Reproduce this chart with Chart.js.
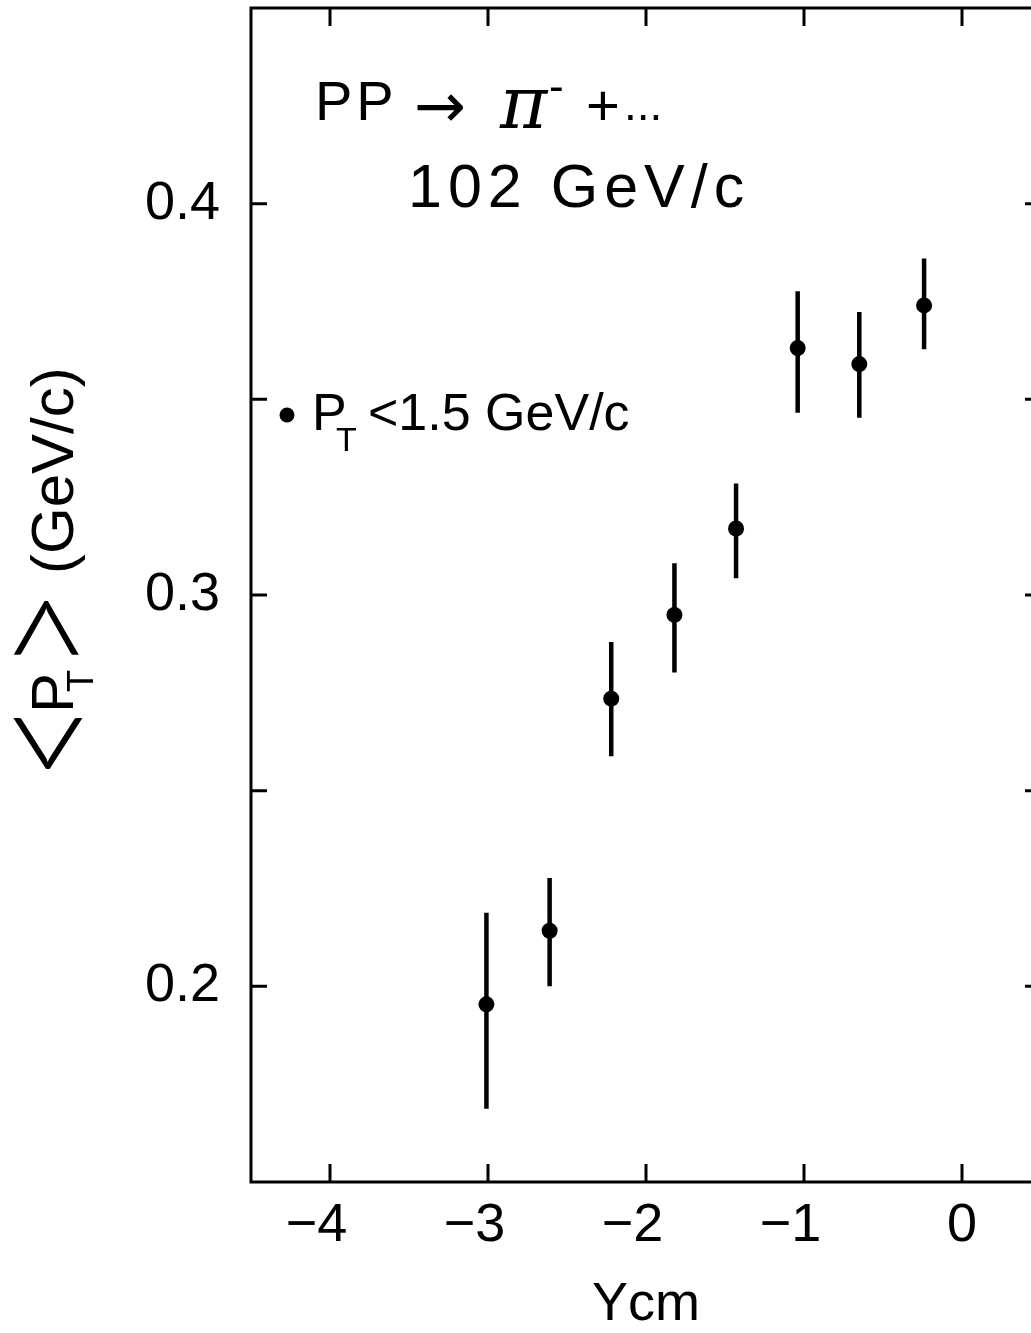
<!DOCTYPE html>
<html>
<head>
<meta charset="utf-8">
<script src="https://cdn.jsdelivr.net/npm/chart.js@4.4.1/dist/chart.umd.min.js"></script>
<style>
  html, body { margin: 0; padding: 0; background: #fff; overflow: hidden; }
  canvas { display: block; }
</style>
</head>
<body>
<canvas id="myChart" width="1060" height="1333"></canvas>
<script>
// rapidity bins (Ycm) and mean pT with error bar ends
const ycm = [-3.01, -2.61, -2.22, -1.82, -1.43, -1.04, -0.65, -0.24];
const meanPt = [0.1954, 0.2142, 0.2735, 0.2949, 0.3170, 0.3631, 0.3590, 0.3740];
const errTop = [0.2188, 0.2277, 0.2880, 0.3081, 0.3285, 0.3776, 0.3723, 0.3860];
const errBottom = [0.1687, 0.2000, 0.2588, 0.2802, 0.3043, 0.3466, 0.3453, 0.3628];

const xTicks = [-4, -3, -2, -1, 0];
const xTickLabels = ["−4", "−3", "−2", "−1", "0"];
const yTicks = [0.2, 0.25, 0.3, 0.35, 0.4];
const yTickLabels = ["0.2", "", "0.3", "", "0.4"];

const SANS = "'Liberation Sans', Arial, sans-serif";

// angle bracket squeezed into a box (text coords)
function bracket(ctx, ch, u0, u1, v0, v1) {
  ctx.save();
  ctx.font = "300 100px Lato";
  const m = ctx.measureText(ch);
  const w = m.actualBoundingBoxLeft + m.actualBoundingBoxRight;
  const h = m.actualBoundingBoxAscent + m.actualBoundingBoxDescent;
  ctx.translate(u0, v0);
  ctx.scale((u1 - u0) / w, (v1 - v0) / h);
  ctx.fillText(ch, m.actualBoundingBoxLeft, m.actualBoundingBoxAscent);
  ctx.restore();
}

const paper = {
  id: 'paper',
  beforeDatasetsDraw(chart) {
    const {ctx, scales: {x, y}} = chart;
    ctx.save();
    ctx.strokeStyle = '#000';
    ctx.lineWidth = 4.5;
    ctx.beginPath();
    ycm.forEach((v, i) => {
      const px = x.getPixelForValue(v);
      ctx.moveTo(px, y.getPixelForValue(errTop[i]));
      ctx.lineTo(px, y.getPixelForValue(errBottom[i]));
    });
    ctx.stroke();
    ctx.restore();
  },
  afterDraw(chart) {
    const {ctx, chartArea: a, scales: {x, y}} = chart;
    ctx.save();
    ctx.strokeStyle = '#000';
    ctx.lineWidth = 3;
    ctx.strokeRect(a.left, a.top, a.right - a.left, a.bottom - a.top);
    ctx.beginPath();
    x.ticks.forEach(t => {
      const px = x.getPixelForValue(t.value);
      ctx.moveTo(px, a.bottom); ctx.lineTo(px, a.bottom - 18);
      ctx.moveTo(px, a.top); ctx.lineTo(px, a.top + 18);
    });
    y.ticks.forEach(t => {
      const py = y.getPixelForValue(t.value);
      ctx.moveTo(a.left, py); ctx.lineTo(a.left + 16, py);
      ctx.moveTo(a.right, py); ctx.lineTo(a.right - 16, py);
    });
    ctx.stroke();

    ctx.fillStyle = '#000';
    ctx.textAlign = 'left';
    ctx.textBaseline = 'alphabetic';

    // reaction label
    ctx.font = "56px " + SANS;
    ctx.letterSpacing = '4px';
    ctx.fillText('PP', 315, 120);
    ctx.letterSpacing = '0px';
    ctx.font = "62px 'DejaVu Sans'";
    ctx.fillText('→', 414, 127);
    ctx.font = "italic 72px 'DejaVu Serif'";
    ctx.fillText('π', 500, 128);
    ctx.font = "44px " + SANS;
    ctx.fillText('-', 549, 101);
    ctx.font = "58px " + SANS;
    ctx.fillText('+', 586, 125);
    ctx.font = "46px " + SANS;
    ctx.fillText('...', 624, 120);
    ctx.font = "61px " + SANS;
    ctx.letterSpacing = '6px';
    ctx.fillText('102 GeV/c', 408, 207);
    ctx.letterSpacing = '0px';

    // cut label
    ctx.beginPath();
    ctx.arc(287, 415, 7.5, 0, Math.PI * 2);
    ctx.fill();
    ctx.font = "52px " + SANS;
    ctx.fillText('P', 312, 430);
    ctx.font = "34px " + SANS;
    ctx.fillText('T', 336, 451);
    ctx.font = "52px " + SANS;
    ctx.fillText('<1.5 GeV/c', 368, 430);

    // y axis title, rotated
    ctx.save();
    ctx.translate(73, 770);
    ctx.rotate(-Math.PI / 2);
    bracket(ctx, '<', 0, 53, -61, 10);
    ctx.font = "60px " + SANS;
    ctx.fillText('P', 57, 0);
    ctx.font = "36px " + SANS;
    ctx.fillText('T', 78, 20);
    bracket(ctx, '>', 114, 170, -61, 6);
    ctx.font = "60px " + SANS;
    ctx.fillText('(GeV/c)', 196, 0);
    ctx.restore();

    ctx.restore();
  }
};

new Chart("myChart", {
  type: "scatter",
  data: {
    datasets: [{
      data: ycm.map((v, i) => ({x: v, y: meanPt[i]})),
      backgroundColor: "#000",
      borderWidth: 0,
      pointRadius: 8,
      showLine: false
    }]
  },
  options: {
    responsive: false,
    animation: false,
    events: [],
    layout: {padding: {top: 5, right: 19, left: 0, bottom: 0}},
    plugins: {legend: {display: false}, tooltip: {enabled: false}},
    scales: {
      x: {
        type: 'linear',
        min: -4.5,
        max: 0.5,
        afterBuildTicks: s => { s.ticks = xTicks.map(v => ({value: v})); },
        afterFit: s => { s.height = 151; s.paddingLeft = 0; s.paddingRight = 0; },
        grid: {display: false, drawTicks: false},
        border: {display: false},
        ticks: {
          padding: 12,
          color: '#000',
          font: {family: SANS, size: 54},
          callback: (v, i) => xTickLabels[i] + (v < 0 ? '\u2002' : '')
        },
        title: {
          display: true,
          text: 'Ycm',
          color: '#000',
          font: {family: SANS, size: 54},
          padding: {top: 0, bottom: -5}
        }
      },
      y: {
        type: 'linear',
        min: 0.15,
        max: 0.45,
        afterBuildTicks: s => { s.ticks = yTicks.map(v => ({value: v})); },
        afterFit: s => { s.width = 251; s.paddingTop = 0; s.paddingBottom = 0; },
        grid: {display: false, drawTicks: false},
        border: {display: false},
        ticks: {
          padding: 31,
          color: '#000',
          font: {family: SANS, size: 54},
          callback: (v, i) => yTickLabels[i]
        }
      }
    }
  },
  plugins: [paper]
});
</script>
</body>
</html>
